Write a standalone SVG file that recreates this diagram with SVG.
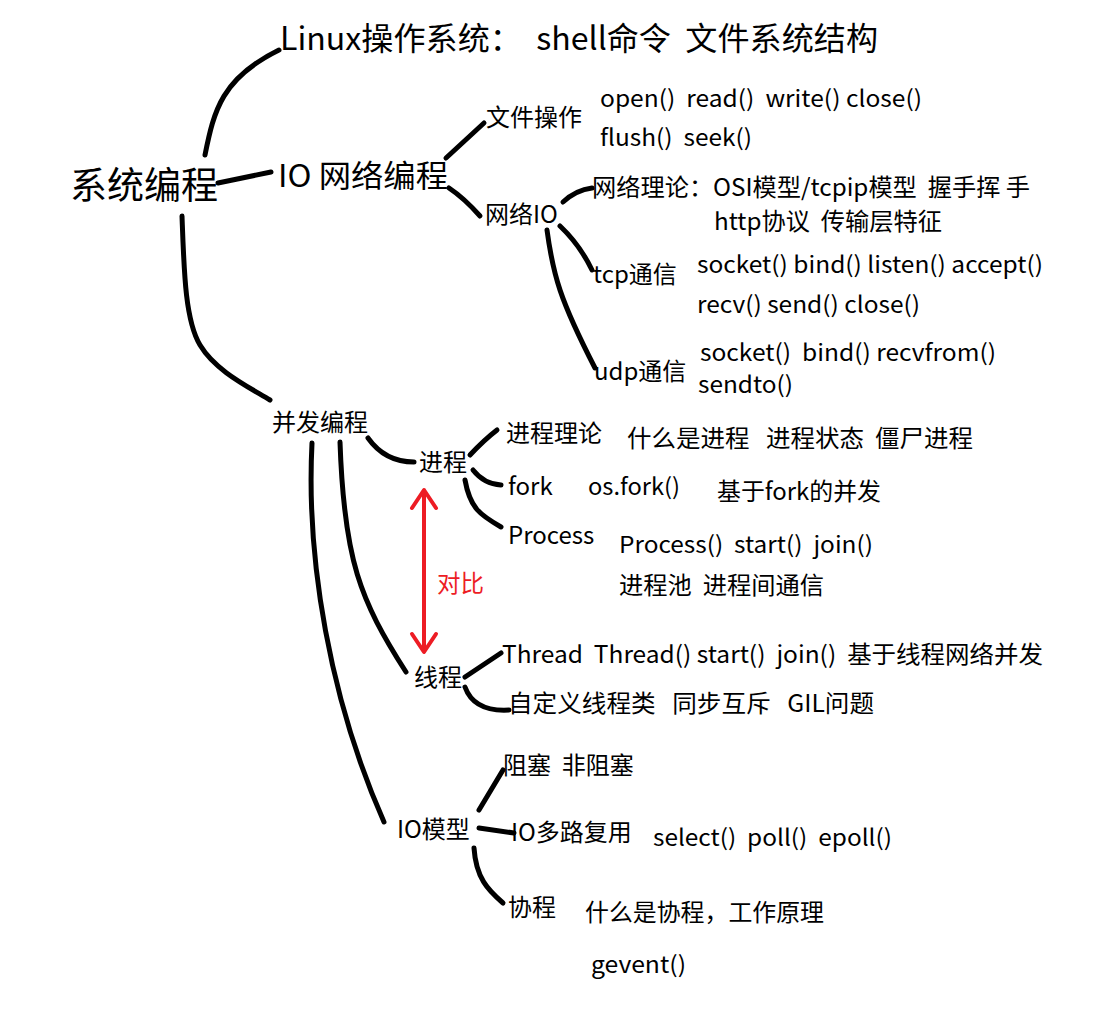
<svg xmlns="http://www.w3.org/2000/svg" width="1106" height="1036" viewBox="0 0 1106 1036">
<style>
text{font-family:"Noto Sans CJK SC","Noto Sans",sans-serif;fill:#000;white-space:pre}
.s{font-size:23px}
.m{font-size:24px}
.c{fill:none;stroke:#000;stroke-width:5;stroke-linecap:round;stroke-linejoin:round}
.r{fill:none;stroke:#ed1c24;stroke-width:4;stroke-linecap:round;stroke-linejoin:round}
</style>
<rect width="1106" height="1036" fill="#fff"/>
<g id="connectors">
<path class="c" d="M205,155 C214,110 222,78 279,50"/>
<path class="c" d="M218,183 L271,172"/>
<path class="c" d="M182,216 C184,270 185,320 200,345 C215,370 245,385 270,400"/>
<path class="c" d="M446,158 L484,123"/>
<path class="c" d="M449,188 Q464,198 480,216"/>
<path class="c" d="M563,202 Q576,190 592,188"/>
<path class="c" d="M560,226 Q580,245 592,270"/>
<path class="c" d="M547,230 C553,275 560,300 595,368"/>
<path class="c" d="M368,438 Q385,462 414,462"/>
<path class="c" d="M470,455 Q484,440 497,430"/>
<path class="c" d="M473,470 Q484,484 501,485"/>
<path class="c" d="M465,480 C470,508 480,515 501,527"/>
<path class="c" d="M340,442 C344,560 360,600 406,672"/>
<path class="c" d="M312,443 C306,560 330,700 384,822"/>
<path class="c" d="M465,677 L501,653"/>
<path class="c" d="M465,687 Q474,712 509,710"/>
<path class="c" d="M479,810 L503,770"/>
<path class="c" d="M479,828 L514,833"/>
<path class="c" d="M474,848 C476,878 488,890 503,903"/>
</g>
<g id="compare">
<path class="r" d="M424,492 L424,650"/>
<path class="r" d="M412,508 L424,490 L436,508"/>
<path class="r" d="M412,634 L424,652 L436,634"/>
<text x="437" y="592" style="font-size:23.5px;fill:#ed1c24">对比</text>
</g>
<g id="root"><text x="70" y="199" style="font-size:37px">系统编程</text></g>
<g id="linux"><text x="280" y="50" style="font-size:32px" textLength="598" lengthAdjust="spacingAndGlyphs">Linux操作系统：  shell命令  文件系统结构</text></g>
<g id="io-net"><text x="278" y="187" style="font-size:31px" textLength="170" lengthAdjust="spacingAndGlyphs">IO 网络编程</text></g>
<g id="file-op">
<text class="m" x="486" y="126">文件操作</text>
<text class="s" x="600" y="107" textLength="322" lengthAdjust="spacingAndGlyphs">open()  read()  write() close()</text>
<text class="s" x="600" y="146" textLength="152" lengthAdjust="spacingAndGlyphs">flush()  seek()</text>
</g>
<g id="net-io"><text class="m" x="485" y="223">网络IO</text></g>
<g id="net-theory">
<text class="m" x="592" y="196" textLength="438" lengthAdjust="spacingAndGlyphs">网络理论：OSI模型/tcpip模型  握手挥 手</text>
<text class="m" x="714" y="230" textLength="228" lengthAdjust="spacingAndGlyphs">http协议  传输层特征</text>
</g>
<g id="tcp">
<text class="m" x="593" y="283">tcp通信</text>
<text class="s" x="697" y="273" textLength="346" lengthAdjust="spacingAndGlyphs">socket() bind() listen() accept()</text>
<text class="s" x="697" y="313" textLength="223" lengthAdjust="spacingAndGlyphs">recv() send() close()</text>
</g>
<g id="udp">
<text class="m" x="594" y="380">udp通信</text>
<text class="s" x="700" y="361" textLength="296" lengthAdjust="spacingAndGlyphs">socket()  bind() recvfrom()</text>
<text class="s" x="698" y="393" textLength="95" lengthAdjust="spacingAndGlyphs">sendto()</text>
</g>
<g id="concurrency"><text class="m" x="272" y="431">并发编程</text></g>
<g id="process">
<text class="m" x="419" y="471">进程</text>
</g>
<g id="process-theory">
<text class="m" x="506" y="442">进程理论</text>
<text class="m" x="627" y="447" textLength="346" lengthAdjust="spacingAndGlyphs">什么是进程   进程状态  僵尸进程</text>
</g>
<g id="fork">
<text class="m" x="508" y="495">fork</text>
<text class="s" x="588" y="495" textLength="92" lengthAdjust="spacingAndGlyphs">os.fork()</text>
<text class="m" x="717" y="500" textLength="164" lengthAdjust="spacingAndGlyphs">基于fork的并发</text>
</g>
<g id="process-cls">
<text class="m" x="508" y="544">Process</text>
<text class="s" x="619" y="553" textLength="254" lengthAdjust="spacingAndGlyphs">Process()  start()  join()</text>
<text class="m" x="619" y="594" textLength="205" lengthAdjust="spacingAndGlyphs">进程池  进程间通信</text>
</g>
<g id="thread">
<text class="m" x="414" y="686">线程</text>
</g>
<g id="thread-cls">
<text class="m" x="502" y="663" textLength="541" lengthAdjust="spacingAndGlyphs">Thread  Thread() start()  join()  基于线程网络并发</text>
</g>
<g id="thread-custom">
<text class="m" x="508" y="712" textLength="366" lengthAdjust="spacingAndGlyphs">自定义线程类   同步互斥   GIL问题</text>
</g>
<g id="io-model"><text class="m" x="397" y="838">IO模型</text></g>
<g id="blocking"><text class="m" x="503" y="774">阻塞  非阻塞</text></g>
<g id="multiplex">
<text class="m" x="511" y="841">IO多路复用</text>
<text class="s" x="653" y="846" textLength="239" lengthAdjust="spacingAndGlyphs">select()  poll()  epoll()</text>
</g>
<g id="coroutine">
<text class="m" x="508" y="916">协程</text>
<text class="m" x="585" y="921" textLength="239" lengthAdjust="spacingAndGlyphs">什么是协程，工作原理</text>
<text class="s" x="591" y="973" textLength="95" lengthAdjust="spacingAndGlyphs">gevent()</text>
</g>
</svg>
